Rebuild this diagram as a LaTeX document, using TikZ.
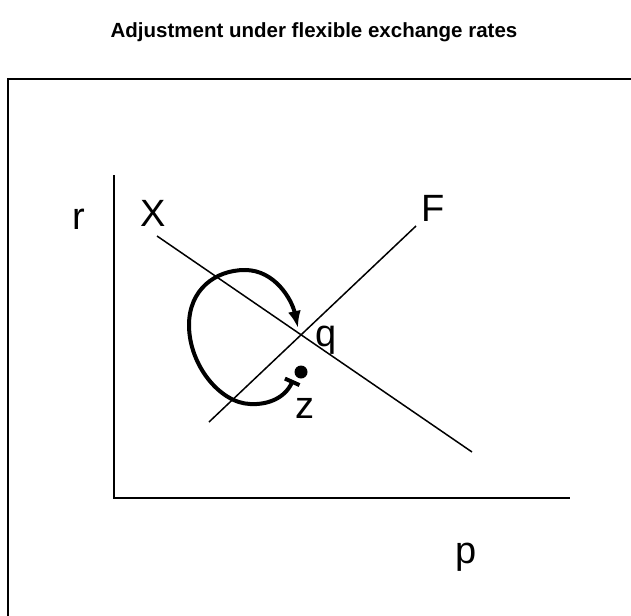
\documentclass[tikz,border=0pt]{standalone}
\usepackage{fontspec}
\setmainfont{Liberation Sans}
\usepackage{tikz}
\usetikzlibrary{arrows.meta}

\begin{document}
\begin{tikzpicture}[x=1pt, y=-1pt,
    lbl/.style={font=\fontsize{38}{40}\selectfont, inner sep=0pt},
    curveln/.style={line width=1.5pt},
    axisln/.style={line width=1.8pt}]
  \useasboundingbox (0,0) rectangle (631,615);
  \begin{scope}
    \clip (0,0) rectangle (631,615);
    \draw[line width=2pt] (8,640) -- (8,79) -- (660,79);
  \end{scope}

  \node (title) at (314,32) {\bfseries\fontsize{20.5}{22}\selectfont Adjustment under flexible exchange rates};

  % axes
  \coordinate (O) at (114,498);
  \coordinate (rtop) at (114,175);
  \coordinate (pend) at (570,498);
  \draw[axisln] (rtop) -- (O) -- (pend);

  % the two schedules
  \coordinate (Xa) at (157,236);
  \coordinate (Xb) at (472,452);
  \coordinate (Fa) at (209,422);
  \coordinate (Fb) at (416,226);
  \draw[curveln] (Xa) -- (Xb);
  \draw[curveln] (Fa) -- (Fb);

  \node[lbl] (r) at (79,219) {r};
  \node[lbl] (X) at (153,213) {X};
  \node[lbl] (F) at (433,208) {F};
  \node[lbl] (q) at (326,340) {q};
  \node[lbl] (z) at (305,408) {z};
  \node[lbl] (p) at (466,557) {p};

  % adjustment path
  \coordinate (zs) at (293,380);
  \coordinate (qt) at (298,328);
  \node[circle, fill, inner sep=0pt, minimum size=13pt] (dot) at (301,372) {};
  \draw[line width=4pt, {Bar[width=16pt]}-{Latex[length=17pt,width=13pt]}]
    (zs) .. controls (285,398) and (268,405) .. (250,404)
         .. controls (220,403) and (189,365) .. (189,325)
         .. controls (189,290) and (215,270) .. (245,270)
         .. controls (275,270) and (292,300) .. (qt);
\end{tikzpicture}
\end{document}
